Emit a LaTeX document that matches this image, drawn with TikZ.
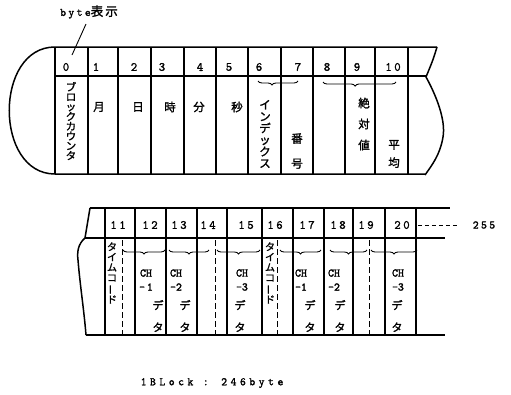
\documentclass[tikz,border=0pt]{standalone}
\usepackage{fontspec}
\setmainfont{Liberation Serif}
\newfontfamily\jpf[FakeBold=1.5]{Noto Sans CJK JP}
\newfontfamily\monosp[LetterSpace=20,FakeBold=1.5]{Latin Modern Mono}
\newfontfamily\monowide[LetterSpace=30,FakeBold=1.5]{Latin Modern Mono}
\newfontfamily\monof[FakeBold=2]{Latin Modern Mono}
\usetikzlibrary{decorations.pathreplacing}
\newcommand{\vbar}{\rotatebox[origin=c]{90}{ー}}
\begin{document}
\begin{tikzpicture}[x=1pt,y=-1pt,
  frame/.style={line width=1.5pt},
  cell/.style={line width=1.2pt},
  dsh/.style={line width=1pt, dash pattern=on 6pt off 3pt},
  num/.style={font=\monosp\fontsize{12.5}{12.5}\selectfont, inner sep=0pt},
  jp/.style={font=\jpf\fontsize{11.5}{11.5}\selectfont, inner sep=0pt},
  vjp/.style={inner sep=0pt, align=center},
  chl/.style={font=\monof\fontsize{11.5}{14}\selectfont, inner sep=0pt, align=center},
  brc/.style={decorate, decoration={brace, mirror, amplitude=4pt}, line width=0.9pt},
  lbl/.style={font=\monosp\fontsize{11.5}{11.5}\selectfont, inner sep=0pt}]
\useasboundingbox (0,0) rectangle (511,394);

% ---------- top row ----------
\draw[frame] (437,47) -- (55,47) .. controls (-6,47) and (-6,174) .. (55,174) -- (425,174);
\draw[frame] (55,76) -- (426,76);
\draw[frame] (437,47) .. controls (433,60) .. (426,77) .. controls (436,95) and (446,120) .. (443,137) .. controls (440,155) and (432,165) .. (425,175);
\foreach \x in {55,88,118,151,184,216,248,281,313,345,375,408}
  \draw[cell] (\x,47) -- (\x,174);

\node[num] (n0) at (66,67) {0};
\node[num] (n1) at (96,67) {1};
\node[num] (n2) at (134,67) {2};
\node[num] (n3) at (162,67) {3};
\node[num] (n4) at (200,67) {4};
\node[num] (n5) at (229,67) {5};
\node[num] (n6) at (259,67) {6};
\node[num] (n7) at (298,67) {7};
\node[num] (n8) at (327,67) {8};
\node[num] (n9) at (357,67) {9};
\node[num] (n10) at (393,67) {10};

\node[lbl] (bl) at (89,12) {byte{\jpf\fontsize{12.5}{12.5}\selectfont 表\,示}};
\coordinate (bt) at (72,55);
\draw[line width=0.9pt] (86,24) -- (bt);

\node[vjp, font=\jpf\fontsize{10.5}{9.8}\selectfont] (blk) at (71,121) {ブ\\ロ\\ッ\\ク\\カ\\ウ\\ン\\タ};
\node[jp] (mon) at (99,107) {月};
\node[jp] (day) at (138,107) {日};
\node[jp] (hr) at (170,107) {時};
\node[jp] (mi) at (199,107) {分};
\node[jp] (se) at (237,107) {秒};
\node[vjp, font=\jpf\fontsize{11.5}{11.7}\selectfont] (idx) at (265,134) {イ\\ン\\デ\\ッ\\ク\\ス};
\node[vjp, font=\jpf\fontsize{11.5}{25}\selectfont] (ban) at (297,151) {番\\号};
\node[vjp, font=\jpf\fontsize{11.5}{21}\selectfont] (abs) at (364,124) {絶\\対\\値};
\node[vjp, font=\jpf\fontsize{11.5}{18}\selectfont] (avg) at (394,154) {平\\均};

\draw[brc, decoration={aspect=0.35}] (258,81) -- (298,81);
\draw[brc, decoration={aspect=0.44}] (323,82) -- (396,82);

% ---------- second row ----------
\draw[frame] (90,208) -- (450,208);
\draw[frame] (85,238) -- (445,238);
\draw[frame] (86,335) -- (445,335);
\draw[frame] (90,208) -- (85,238) .. controls (78,244) and (77,252) .. (78,260) .. controls (80,285) and (84,310) .. (86,335);
\foreach \x in {105,135,166,197,227,262,293,324,353,385,416}
  \draw[cell] (\x,208) -- (\x,335);
\foreach \x in {122,215,277,369}
  \draw[dsh] (\x,240) -- (\x,335);

\node[num] (m11) at (118,225) {11};
\node[num] (m12) at (150,225) {12};
\node[num] (m13) at (179,225) {13};
\node[num] (m14) at (208,225) {14};
\node[num] (m15) at (246,225) {15};
\node[num] (m16) at (275,225) {16};
\node[num] (m17) at (307,225) {17};
\node[num] (m18) at (338,225) {18};
\node[num] (m19) at (366,225) {19};
\node[num] (m20) at (402,225) {20};
\node[lbl] (m255) at (484,225) {255};
\draw[dsh, dash pattern=on 4pt off 3pt] ([xshift=8pt]m20.east) -- ([xshift=-14pt]m255.west);

\node[vjp, font=\jpf\fontsize{10}{10.3}\selectfont] (tc1) at (112,273) {タ\\イ\\ム\\コ\\\vbar\\ド};
\node[vjp, font=\jpf\fontsize{10}{10.3}\selectfont] (tc2) at (270,273) {タ\\イ\\ム\\コ\\\vbar\\ド};

\draw[brc] (123,250) -- (165,250);
\draw[brc] (169,250) -- (209,250);
\draw[brc] (217,250) -- (260,250);
\draw[brc] (280,250) -- (321,250);
\draw[brc] (330,250) -- (367,250);
\draw[brc] (371,250) -- (417,250);

\node[chl] (c1a) at (146,280) {CH\\-\,1};
\node[vjp, font=\jpf\fontsize{11}{22}\selectfont] (c1b) at (158,316) {デ\\タ};
\node[chl] (c2a) at (176,280) {CH\\-2};
\node[vjp, font=\jpf\fontsize{11}{22}\selectfont] (c2b) at (185,316) {デ\\タ};
\node[chl] (c3a) at (242,280) {CH\\-3};
\node[vjp, font=\jpf\fontsize{11}{22}\selectfont] (c3b) at (240,316) {デ\\タ};
\node[chl] (c4a) at (301,280) {CH\\-1};
\node[vjp, font=\jpf\fontsize{11}{22}\selectfont] (c4b) at (310,316) {デ\\タ};
\node[chl] (c5a) at (334,280) {CH\\-2};
\node[vjp, font=\jpf\fontsize{11}{22}\selectfont] (c5b) at (340,316) {デ\\タ};
\node[chl] (c6a) at (398,280) {CH\\-3};
\node[vjp, font=\jpf\fontsize{11}{22}\selectfont] (c6b) at (397,316) {デ\\タ};

\node[inner sep=0pt, font=\monowide\fontsize{11.5}{11.5}\selectfont] (tot) at (212,383) {1BLock : 246byte};
\end{tikzpicture}
\end{document}
